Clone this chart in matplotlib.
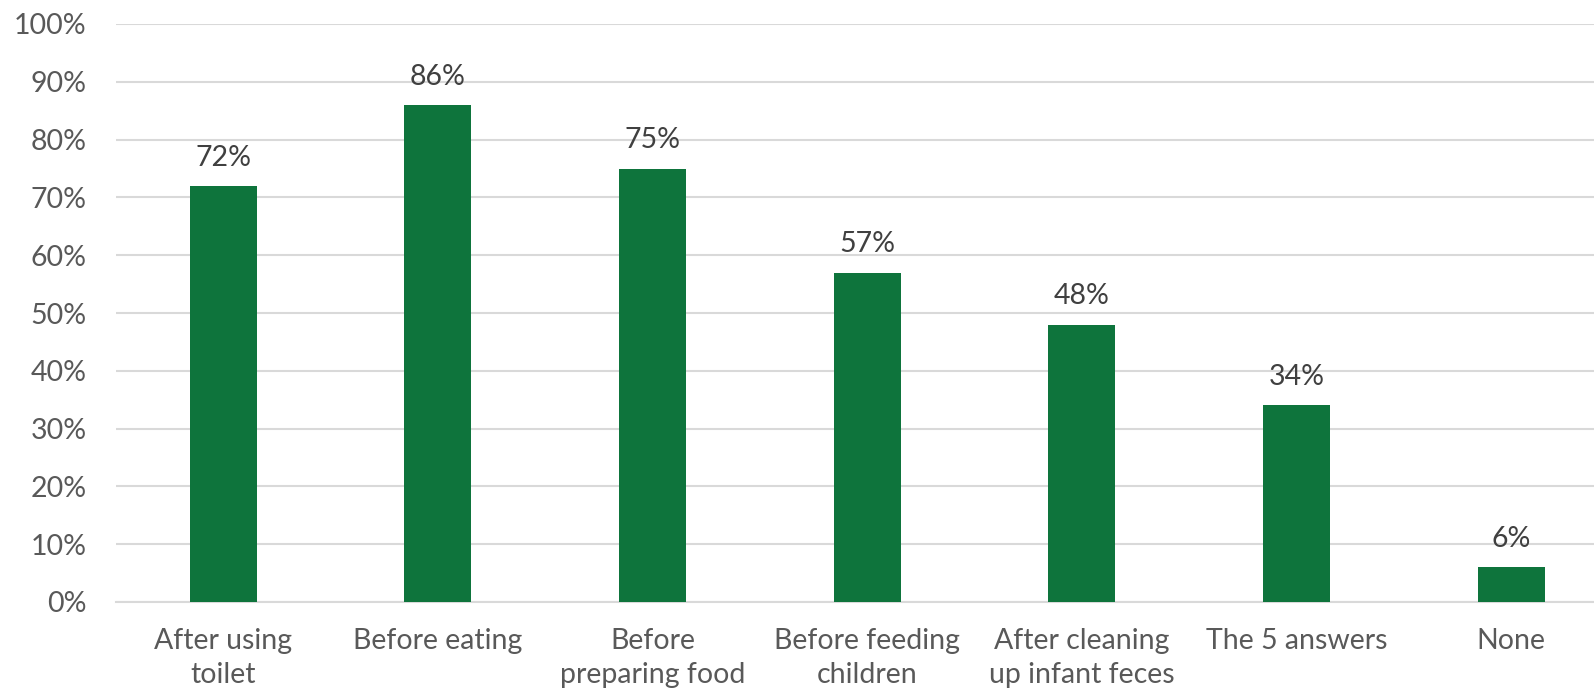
import matplotlib
matplotlib.use("Agg")
import matplotlib.pyplot as plt
from matplotlib.ticker import PercentFormatter

categories = ["After using\ntoilet", "Before eating", "Before\npreparing food",
              "Before feeding\nchildren", "After cleaning\nup infant feces",
              "The 5 answers", "None"]
values = [72, 86, 75, 57, 48, 34, 6]
yticks = list(range(0, 101, 10))

bar_color = "#0E743C"
text_color = "#595959"
grid_color = "#D9D9D9"

plt.rcParams["font.family"] = ["Lato", "DejaVu Sans"]

fig = plt.figure(figsize=(15.94, 6.99), dpi=100)
ax = fig.add_axes([116 / 1594, 1 - 602 / 699, 1 - 116 / 1594, (602 - 24) / 699])

x = list(range(len(categories)))
bars = ax.bar(x, values, width=0.312, color=bar_color, zorder=3)

for xi, v in zip(x, values):
    ax.annotate(f"{v}%", (xi, v), xytext=(0, 11), textcoords="offset points",
                ha="center", va="bottom", fontsize=20.5, color="#404040")

ax.set_xlim(-0.5, 6.386)
ax.set_ylim(0, 100)
ax.set_yticks(yticks)
ax.yaxis.set_major_formatter(PercentFormatter(decimals=0))
ax.set_xticks(x)
ax.set_xticklabels(categories, linespacing=1.35)

ax.grid(axis="y", color=grid_color, linewidth=1.5, zorder=0)
ax.tick_params(axis="both", length=0, labelsize=20.5, labelcolor=text_color)
ax.tick_params(axis="y", pad=21)
ax.tick_params(axis="x", pad=19)
for side in ["top", "right", "left"]:
    ax.spines[side].set_visible(False)
ax.spines["bottom"].set_color(grid_color)
ax.spines["bottom"].set_linewidth(1.5)

fig.savefig("out.png", dpi=100)
